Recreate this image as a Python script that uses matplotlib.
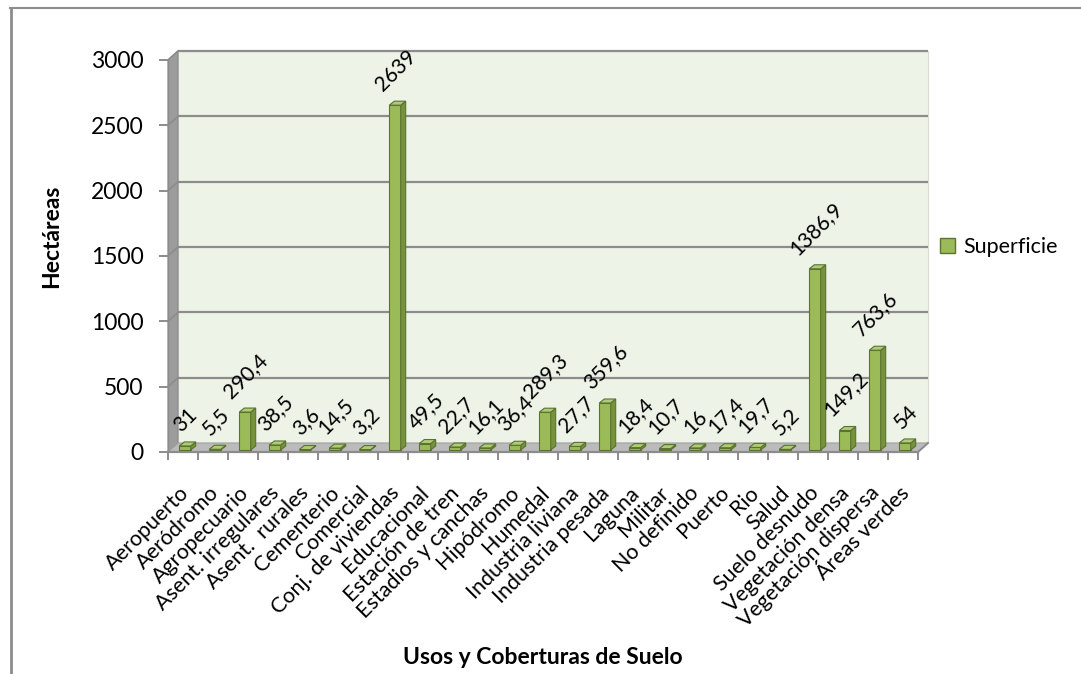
import matplotlib
matplotlib.use("Agg")
import matplotlib.pyplot as plt
from matplotlib.patches import Polygon, Patch
from matplotlib.transforms import ScaledTranslation, IdentityTransform, blended_transform_factory
from matplotlib.lines import Line2D

plt.rcParams['font.family'] = ['Lato', 'DejaVu Sans']

categories = ["Aeropuerto", "Aeródromo", "Agropecuario", "Asent. irregulares",
              "Asent.  rurales", "Cementerio", "Comercial", "Conj. de viviendas",
              "Educacional", "Estación de tren", "Estadios y canchas", "Hipódromo",
              "Humedal", "Industria liviana", "Industria pesada", "Laguna", "Militar",
              "No definido", "Puerto", "Rio", "Salud", "Suelo desnudo",
              "Vegetación densa", "Vegetación dispersa", "Áreas verdes"]
superficie = [31, 5.5, 290.4, 38.5, 3.6, 14.5, 3.2, 2639, 49.5, 22.7, 16.1, 36.4,
              289.3, 27.7, 359.6, 18.4, 10.7, 16, 17.4, 19.7, 5.2, 1386.9, 149.2,
              763.6, 54]
yticks = [0, 500, 1000, 1500, 2000, 2500, 3000]
series_name = "Superficie"
ylabel = "Hectáreas"
xlabel = "Usos y Coberturas de Suelo"

W, H, DPI = 1081, 674, 100
fig = plt.figure(figsize=(W / DPI, H / DPI), dpi=DPI)
fig.patch.set_facecolor("white")

ax = fig.add_axes([168 / W, (H - 452) / H, 750 / W, 392 / H])
ax.set_facecolor("none")
n = len(categories)
ax.set_xlim(0, n)
ax.set_ylim(0, 3000)

GRID = "#8C8C8C"
DX, DY = 10, 9  # depth offset in pixels (right, up)


def off(dx, dy):
    return ax.transData + ScaledTranslation(dx / DPI, dy / DPI, fig.dpi_scale_trans)


def px(x, y, dx=0, dy=0):
    X, Y = ax.transData.transform((x, y))
    return (X + dx, Y + dy)


def poly(pts, **kw):
    p = Polygon(pts, closed=True, transform=IdentityTransform(), clip_on=False, **kw)
    ax.add_artist(p)
    return p

# back wall
poly([px(0, 0, DX, DY), px(n, 0, DX, DY), px(n, 3000, DX, DY), px(0, 3000, DX, DY)],
     facecolor="#EEF3E8", edgecolor="#D8DDD4", lw=0.8, zorder=0)
# side wall
poly([px(0, 0), px(0, 0, DX, DY), px(0, 3000, DX, DY), px(0, 3000)],
     facecolor="#9C9C9C", edgecolor="#8A8A8A", lw=0.8, zorder=0.6)
# floor
poly([px(0, 0), px(n, 0), px(n, 0, DX, DY), px(0, 0, DX, DY)],
     facecolor="#BBBBBB", edgecolor="#A0A0A0", lw=0.8, zorder=0.6)

# gridlines on back wall and side wall
for t in yticks[1:]:
    ax.plot([0, n], [t, t], color=GRID, lw=1.6, transform=off(DX, DY), zorder=0.5,
            clip_on=False, solid_capstyle="butt")
    a, b = px(0, t), px(0, t, DX, DY)
    ax.add_line(Line2D([a[0], b[0]], [a[1], b[1]], color=GRID, lw=1.2,
                       transform=IdentityTransform(), clip_on=False, zorder=0.7))

# bars
FRONT, SIDE, TOP, EDGE = "#9BBB59", "#76923C", "#AECB78", "#5B7230"
BX, BY = 2, 2       # bar base offset behind front plane
bw = 0.38
bdx, bdy = 5, 4     # bar depth
xs = [i + 0.5 for i in range(n)]
bars = ax.bar(xs, superficie, width=bw, color=FRONT, edgecolor=EDGE, linewidth=0.8,
              transform=off(BX, BY), zorder=3, clip_on=False)
for x, v in zip(xs, superficie):
    x0, x1 = x - bw / 2, x + bw / 2
    poly([px(x1, 0, BX, BY), px(x1, 0, BX + bdx, BY + bdy),
          px(x1, v, BX + bdx, BY + bdy), px(x1, v, BX, BY)],
         facecolor=SIDE, edgecolor=EDGE, lw=0.8, zorder=3)
    poly([px(x0, v, BX, BY), px(x1, v, BX, BY),
          px(x1, v, BX + bdx, BY + bdy), px(x0, v, BX + bdx, BY + bdy)],
         facecolor=TOP, edgecolor=EDGE, lw=0.8, zorder=3)
    ax.annotate(f"{v:g}".replace(".", ","), (x, v), xytext=(2, 9),
                textcoords="offset points", rotation=45, ha="center", va="bottom",
                fontsize=15, color="black", zorder=5, annotation_clip=False)

# axes styling
for s in ["top", "right"]:
    ax.spines[s].set_visible(False)
ax.spines["left"].set_color(GRID)
ax.spines["left"].set_linewidth(1.0)
ax.spines["bottom"].set_color(GRID)
ax.spines["bottom"].set_linewidth(1.6)
ax.set_yticks(yticks)
ax.set_yticklabels([str(t) for t in yticks])
ax.tick_params(axis="y", length=6.5, width=1.4, color=GRID, labelsize=16.5, pad=11,
               direction="out")
ax.set_xticks(range(n + 1))
ax.set_xticklabels([])
ax.tick_params(axis="x", length=6, width=1.4, color=GRID, direction="out")
# floor right diagonal
a, b = px(n, 0), px(n, 0, DX, DY)
ax.add_line(Line2D([a[0], b[0]], [a[1], b[1]], color=GRID, lw=1.4,
                   transform=IdentityTransform(), clip_on=False, zorder=1))

# category labels
btr = blended_transform_factory(ax.transData, ax.transAxes)
for x, c in zip(xs, categories):
    ax.text(x, 0, c, rotation=45, ha="right", va="center", rotation_mode="anchor",
            fontsize=15.5, transform=btr + ScaledTranslation(3 / DPI, -38 / DPI, fig.dpi_scale_trans))

fig.text(52 / W, 1 - 236 / H, ylabel, rotation=90, ha="center", va="center",
         fontsize=16.5, fontweight="bold")
fig.text(543 / W, 1 - 657 / H, xlabel, ha="center", va="center",
         fontsize=16.5, fontweight="bold")

fig.legend(handles=[Patch(facecolor=FRONT, edgecolor=EDGE, label=series_name)],
           loc="center left", bbox_to_anchor=(940 / W, 1 - 247 / H), frameon=False,
           fontsize=15.5, handlelength=0.7, handleheight=0.7, handletextpad=0.4,
           borderpad=0, borderaxespad=0)

# outer chart border (cropped)
fig.add_artist(Line2D([10.5 / W, 10.5 / W], [0, 1 - 8 / H], color="#8C8C8C", lw=2.0,
                      transform=fig.transFigure))
fig.add_artist(Line2D([10 / W, 1], [1 - 8 / H, 1 - 8 / H], color="#8C8C8C", lw=1.5,
                      transform=fig.transFigure))

fig.savefig("out.png", dpi=DPI)
